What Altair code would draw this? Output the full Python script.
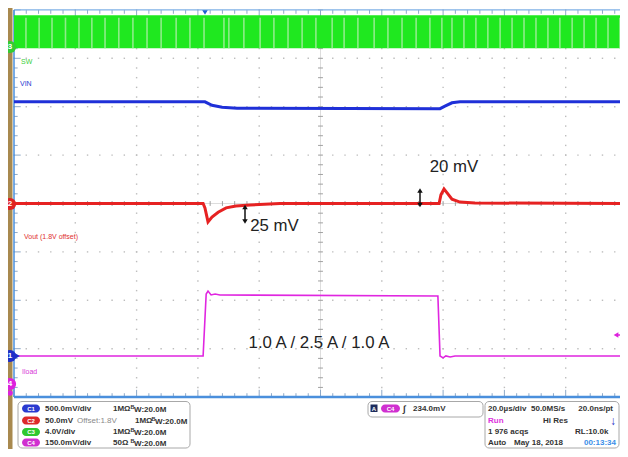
import altair as alt
import pandas as pd

# ---------------- data (time in µs, amplitude in graticule divisions) ----------------
sw_high, sw_low = 3.89, 3.21
sw_gap_t = [-96.1, -91.8, -87.6, -83.2, -78.8, -74.6, -70.3, -65.8, -61.2, -56.6, -52.0,
            -47.1, -42.6, -38.0, -31.5, -29.9, -25.0, -19.7, -15.2, -10.6, -6.0, -1.5,
            3.8, 7.7, 12.2, 17.5, 22.0, 26.6, 31.2, 35.7, 39.6, 42.9, 46.8, 50.7, 54.6,
            58.6, 62.5, 66.4, 70.3, 74.2, 78.1, 82.1, 86.0, 89.9, 93.8, 97.7]

vin_t = [-100, -37.7, -35.4, -32.1, -27.2, 39.0, 40.6, 42.9, 45.5, 100]
vin_d = [2.10, 2.10, 2.03, 1.99, 1.97, 1.96, 2.01, 2.08, 2.10, 2.10]

vout_t = [-100, -38.3, -37.7, -36.7, -35.4, -33.4, -30.8, -27.6, -23.0, -13.2,
          38.7, 39.3, 40.3, 41.3, 42.9, 45.5, 50.4, 100]
vout_d = [0.0, 0.0, -0.09, -0.38, -0.28, -0.18, -0.09, -0.05, -0.03, 0.0,
          0.0, 0.18, 0.30, 0.22, 0.09, 0.03, 0.01, 0.0]

iload_t = [-100, -38.3, -37.3, -36.7, -35.7, -34.4, -32.8, 38.3, 39.0, 40.0, 40.9, 42.3, 43.9, 100]
iload_d = [-3.15, -3.15, -1.87, -1.81, -1.89, -1.87, -1.89, -1.91, -3.15, -3.19, -3.15, -3.17, -3.15, -3.15]

# ---------------- layout calibration ----------------
W, H = 612, 441
X0_PX, X_PER_US = 320.5, 3.065
Y0_PX, Y_PER_DIV = 203.5, 48.4


def tx(px):
    return (px - X0_PX) / X_PER_US


def dy(py):
    return (Y0_PX - py) / Y_PER_DIV


XS = alt.Scale(domain=[tx(8), tx(8 + W)], nice=False, zero=False)
YS = alt.Scale(domain=[dy(8 + H), dy(8)], nice=False, zero=False)
FONT = "Liberation Sans"


def X(f="x"):
    return alt.X(f"{f}:Q", scale=XS, axis=None)


def Y(f="y"):
    return alt.Y(f"{f}:Q", scale=YS, axis=None)


def rects(rows):
    return pd.DataFrame([dict(x=tx(a), x2=tx(b), y=dy(c), y2=dy(d)) for a, b, c, d in rows])


def rect_layer(rows, **kw):
    return alt.Chart(rects(rows)).mark_rect(**kw).encode(
        x=X(), x2=alt.X2("x2:Q"), y=Y(), y2=alt.Y2("y2:Q"))


def texts(rows, **kw):
    df = pd.DataFrame([dict(x=tx(a), y=dy(b), t=c) for a, b, c in rows])
    kw.setdefault("font", FONT)
    kw.setdefault("baseline", "middle")
    kw.setdefault("align", "left")
    return alt.Chart(df).mark_text(**kw).encode(x=X(), y=Y(), text="t:N")


layers = []

# tan strip on the left
layers.append(rect_layer([(4, 12.5, 8, 460)], color="#a8894f"))

# graticule dots
minor_t = [-100 + 4 * i for i in range(51)]
minor_d = [round(-4 + 0.2 * i, 2) for i in range(41)]
dots = []
for tv in [-80, -60, -40, -20, 20, 40, 60, 80]:
    for dv in minor_d:
        dots.append(dict(x=tv, y=dv))
for dv in [-3, -2, -1, 1, 2, 3]:
    for tv in minor_t:
        dots.append(dict(x=tv, y=dv))
layers.append(alt.Chart(pd.DataFrame(dots)).mark_square(size=2, color="#bdbdbd", opacity=1)
              .encode(x=X(), y=Y()))

# center cross lines with ticks
ticks = [dict(x=0, x2=0, y=-4, y2=4, c="#dddddd"), dict(x=-100, x2=100, y=0, y2=0, c="#dddddd")]
for dv in minor_d:
    ticks.append(dict(x=-0.8, x2=0.8, y=dv, y2=dv, c="#a0a0a0"))
for tv in minor_t:
    ticks.append(dict(x=tv, x2=tv, y=-0.05, y2=0.05, c="#a0a0a0"))
# border ticks
for i, tv in enumerate(minor_t):
    L = 0.15 if i % 5 == 0 else 0.08
    ticks.append(dict(x=tv, x2=tv, y=4.0, y2=4.0 - L, c="#8ea9c8"))
    ticks.append(dict(x=tv, x2=tv, y=-4.0, y2=-4.0 + L, c="#8ea9c8"))
for i, dv in enumerate(minor_d):
    L = 2.2 if i % 5 == 0 else 1.2
    ticks.append(dict(x=-100, x2=-100 + L, y=dv, y2=dv, c="#8ea9c8"))
    ticks.append(dict(x=100, x2=100 - L, y=dv, y2=dv, c="#8ea9c8"))
layers.append(alt.Chart(pd.DataFrame(ticks)).mark_rule(strokeWidth=1).encode(
    x=X(), x2=alt.X2("x2:Q"), y=Y(), y2=alt.Y2("y2:Q"), color=alt.Color("c:N", scale=None)))

# borders
layers.append(alt.Chart(pd.DataFrame([dict(x=-100, x2=100, y=4.0, y2=4.0)])).mark_rule(
    color="#7fb0e6", strokeWidth=1.2).encode(x=X(), x2=alt.X2("x2:Q"), y=Y(), y2=alt.Y2("y2:Q")))
layers.append(alt.Chart(pd.DataFrame([dict(x=-100, x2=100.3, y=-4.0, y2=-4.0)])).mark_rule(
    color="#4a8fdc", strokeWidth=2.5).encode(x=X(), x2=alt.X2("x2:Q"), y=Y(), y2=alt.Y2("y2:Q")))
layers.append(alt.Chart(pd.DataFrame([dict(x=-100, x2=-100, y=-4.0, y2=4.0)])).mark_rule(
    color="#4a8fdc", strokeWidth=1.5).encode(x=X(), x2=alt.X2("x2:Q"), y=Y(), y2=alt.Y2("y2:Q")))

# SW (C3) switching node: dense green band with lighter gaps
layers.append(alt.Chart(pd.DataFrame([dict(x=-100, x2=100, y=sw_low, y2=sw_high)])).mark_rect(
    color="#1fe81f").encode(x=X(), x2=alt.X2("x2:Q"), y=Y(), y2=alt.Y2("y2:Q")))
layers.append(alt.Chart(pd.DataFrame(dict(x=sw_gap_t, y=sw_low, y2=sw_high - 0.05))).mark_rule(
    color="#8fec8a", strokeWidth=1.6).encode(x=X(), y=Y(), y2=alt.Y2("y2:Q")))

# traces
layers.append(alt.Chart(pd.DataFrame(dict(x=vin_t, y=vin_d))).mark_line(
    color="#1f30d8", strokeWidth=3).encode(x=X(), y=Y()))
layers.append(alt.Chart(pd.DataFrame(dict(x=vout_t, y=vout_d))).mark_line(
    color="#e62222", strokeWidth=3).encode(x=X(), y=Y()))
layers.append(alt.Chart(pd.DataFrame(dict(x=iload_t, y=iload_d))).mark_line(
    color="#e026e0", strokeWidth=1.6).encode(x=X(), y=Y()))

# annotation arrows
arrows = [(420, 191, 204.5), (245, 207.5, 221)]
layers.append(alt.Chart(pd.DataFrame([dict(x=tx(a), y=dy(b), y2=dy(c)) for a, b, c in arrows]))
              .mark_rule(color="#111", strokeWidth=1.5).encode(x=X(), y=Y(), y2=alt.Y2("y2:Q")))
heads = [dict(x=tx(420), y=dy(190.5), s="triangle-up"), dict(x=tx(420), y=dy(205), s="triangle-down"),
         dict(x=tx(245), y=dy(207), s="triangle-up"), dict(x=tx(245), y=dy(221.5), s="triangle-down")]
layers.append(alt.Chart(pd.DataFrame(heads)).mark_point(filled=True, size=30, color="#111", opacity=1)
              .encode(x=X(), y=Y(), shape=alt.Shape("s:N", scale=None)))

# annotation text
layers.append(texts([(454, 167, "20 mV"), (274.5, 225.5, "25 mV"),
                     (319, 343, "1.0 A / 2.5 A / 1.0 A")], fontSize=16.8, color="#222", align="center"))

# channel labels
layers.append(texts([(21, 62, "SW")], fontSize=7, color="#3ccf3c"))
layers.append(texts([(20, 84, "VIN")], fontSize=7, color="#2a3ad0"))
layers.append(texts([(24, 237, "Vout (1.8V offset)")], fontSize=7, color="#e03030"))
layers.append(texts([(22, 372, "Iload")], fontSize=7, color="#d838d8"))

# channel markers, trigger markers
marks = [dict(x=tx(10), y=dy(47), c="#33cc33", n="3"), dict(x=tx(10), y=dy(204), c="#e02222", n="2"),
         dict(x=tx(10), y=dy(356), c="#1f2fc8", n="1"), dict(x=tx(10), y=dy(384), c="#dd22dd", n="4")]
mdf = pd.DataFrame(marks)
layers.append(alt.Chart(mdf).mark_circle(size=150, opacity=1).encode(
    x=X(), y=Y(), color=alt.Color("c:N", scale=None)))
layers.append(alt.Chart(mdf).mark_text(fontSize=8, fontWeight="bold", color="white", font=FONT)
              .encode(x=X(), y=Y(), text="n:N"))
tri = [dict(x=tx(205), y=dy(12.5), s="triangle-down", c="#1f5fd0"),
       dict(x=tx(17.5), y=dy(356), s="triangle-right", c="#1f2fc8"),
       dict(x=tx(616), y=dy(335), s="triangle-left", c="#dd22dd"),
       dict(x=tx(10), y=dy(393), s="circle", c="#dd22dd")]
layers.append(alt.Chart(pd.DataFrame(tri)).mark_point(filled=True, size=30, opacity=1).encode(
    x=X(), y=Y(), shape=alt.Shape("s:N", scale=None), color=alt.Color("c:N", scale=None)))
layers.append(alt.Chart(pd.DataFrame([dict(x=tx(617), x2=tx(627), y=dy(335))])).mark_rule(
    color="#dd22dd", strokeWidth=1.5).encode(x=X(), x2=alt.X2("x2:Q"), y=Y()))

# ---------------- info boxes ----------------
layers.append(rect_layer([(18, 190, 401.5, 448), (368, 483, 401.5, 417), (485, 619, 401.5, 448)],
                         fill="white", stroke="#a8a8a8", strokeWidth=1, cornerRadius=4))
R1, R2, R3, R4 = 408.5, 420.5, 432, 442.5
pills = [(22, 40, R1 - 4, R1 + 4, "#2a3ad0", "C1"), (22, 40, R2 - 4, R2 + 4, "#dd2a2a", "C2"),
         (22, 40, R3 - 4, R3 + 4, "#30c830", "C3"), (22, 40, R4 - 4, R4 + 4, "#d030d0", "C4"),
         (381, 400, R1 - 4, R1 + 4, "#d030d0", "C4")]
pdf = pd.DataFrame([dict(x=tx(a), x2=tx(b), y=dy(c), y2=dy(d), c=col, t=t,
                         xm=tx((a + b) / 2), ym=dy((c + d) / 2)) for a, b, c, d, col, t in pills])
layers.append(alt.Chart(pdf).mark_rect(cornerRadius=4).encode(
    x=X(), x2=alt.X2("x2:Q"), y=Y(), y2=alt.Y2("y2:Q"), color=alt.Color("c:N", scale=None)))
layers.append(alt.Chart(pdf).mark_text(fontSize=6, color="white", font=FONT, fontWeight="bold")
              .encode(x=X("xm"), y=Y("ym"), text="t:N"))
layers.append(rect_layer([(370.5, 377.5, R1 - 4, R1 + 3.5)], color="#1c2b5c"))
layers.append(texts([(374, R1, "A")], fontSize=6, color="white", fontWeight="bold", align="center"))

bold_rows = [(45, R1, "500.0mV/div"), (113, R1, "1MΩ"), (134, R1 + 1, "W:20.0M"),
             (45, R2, "50.0mV"), (135, R2, "1MΩ"), (155, R2 + 1, "W:20.0M"),
             (45, R3, "4.0V/div"), (113, R3, "1MΩ"), (134, R3 + 1, "W:20.0M"),
             (45, R4, "150.0mV/div"), (113, R4, "50Ω"), (134, R4 + 1, "W:20.0M"),
             (413, R1, "234.0mV"),
             (488, R1, "20.0µs/div"), (531, R1, "50.0MS/s"),
             (543, R2, "Hi Res"),
             (488, R3, "1 976 acqs"), (575, R3, "RL:10.0k"),
             (488, R4, "Auto"), (514, R4, "May 18, 2018")]
layers.append(texts(bold_rows, fontSize=8, fontWeight="bold", color="#333"))
layers.append(texts([(130.5, R1 - 2, "B"), (151.5, R2 - 2, "B"), (130.5, R3 - 2, "B"), (130.5, R4 - 2, "B")],
                    fontSize=5.5, fontWeight="bold", color="#333"))
layers.append(texts([(613, R1, "20.0ns/pt")], fontSize=8, fontWeight="bold", color="#333", align="right"))
layers.append(texts([(77, R2, "Offset:1.8V")], fontSize=8, color="#8a8a8a"))
layers.append(texts([(403, R1, "∫")], fontSize=9, fontWeight="bold", color="#333"))
layers.append(texts([(488, R2, "Run")], fontSize=8, fontWeight="bold", color="#dd33dd"))
layers.append(texts([(616, R4, "00:13:34")], fontSize=8, fontWeight="bold", color="#3a8ee8", align="right"))
layers.append(texts([(613, R2, "↓")], fontSize=12, fontWeight="bold", color="#1f30c8", align="center"))

chart = alt.layer(*layers).properties(
    width=W, height=H, autosize=alt.AutoSizeParams(type="none"), padding=0
).configure_view(stroke=None)

chart.save("out.html", embed_options={"renderer": "svg", "actions": False})
